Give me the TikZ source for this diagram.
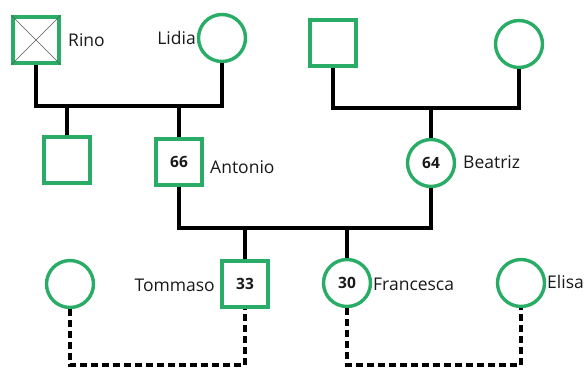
\documentclass[tikz,border=0pt]{standalone}
\usepackage{fontspec}
\setmainfont{Open Sans}
\definecolor{gr}{RGB}{40,172,102}
\definecolor{ink}{RGB}{25,25,25}
\begin{document}
\begin{tikzpicture}[x=1pt,y=-1pt,
  male/.style={draw=gr,line width=3.4pt,fill=white,minimum size=46pt,inner sep=0pt,font=\fontsize{15.5}{18}\selectfont\bfseries,text=ink},
  female/.style={circle,draw=gr,line width=3.4pt,fill=white,minimum size=47pt,inner sep=0pt,font=\fontsize{15.5}{18}\selectfont\bfseries,text=ink},
  nm/.style={font=\fontsize{17.5}{20}\selectfont,text=ink,inner sep=0pt},
  link/.style={draw=black,line width=3.4pt},
  dlink/.style={draw=black,line width=3.2pt,dash pattern=on 7pt off 4pt}]
\useasboundingbox (0,0) rectangle (585,367);
% generation 1
\node[male] (rino) at (36,40) {};
\draw[gray!70!black,line width=0.7pt] (rino.north west) -- (rino.south east) (rino.north east) -- (rino.south west);
\node[female] (lidia) at (222,38) {};
\node[male] (gf) at (333,43) {};
\node[female] (gm) at (519,44) {};
\node[nm,anchor=west] (trino) at (68,40) {Rino};
\node[nm,anchor=east] (tlidia) at (196,38) {Lidia};
% generation 2
\node[male] (u1) at (67,160) {};
\node[male] (antonio) at (179,162) {66};
\node[female] (beatriz) at (431,163) {64};
\node[nm,anchor=west] (tantonio) at (210,167) {Antonio};
\node[nm,anchor=west] (tbeatriz) at (463,162) {Beatriz};
% generation 3
\node[female] (w1) at (70,284) {};
\node[male] (tommaso) at (245,284) {33};
\node[female] (francesca) at (347,283) {30};
\node[female] (elisa) at (521,283) {};
\node[nm,anchor=east] (ttommaso) at (215,285) {Tommaso};
\node[nm,anchor=west] (tfrancesca) at (373,284) {Francesca};
\node[nm,anchor=west] (telisa) at (547,282) {Elisa};
% coordinates
\coordinate (m1) at (129,106);
\coordinate (m2) at (432,108);
\coordinate (m3) at (300,228);
\coordinate (m4) at (150,365);
\coordinate (m5) at (430,365);
% connectors
\draw[link] (rino.south) |- (m1) -| (lidia.south);
\draw[link] (u1.north) -- (u1.north |- m1);
\draw[link] (antonio.north) -- (antonio.north |- m1);
\draw[link] (gf.south) |- (m2) -| (gm.south);
\draw[link] (beatriz.north) -- (beatriz.north |- m2);
\draw[link] (antonio.south) |- (m3) -| (beatriz.south);
\draw[link] (tommaso.north) -- (tommaso.north |- m3);
\draw[link] (francesca.north) -- (francesca.north |- m3);
\draw[dlink] (w1.south) |- (m4) -| (tommaso.south);
\draw[dlink] (francesca.south) |- (m5) -| (elisa.south);
\end{tikzpicture}
\end{document}
